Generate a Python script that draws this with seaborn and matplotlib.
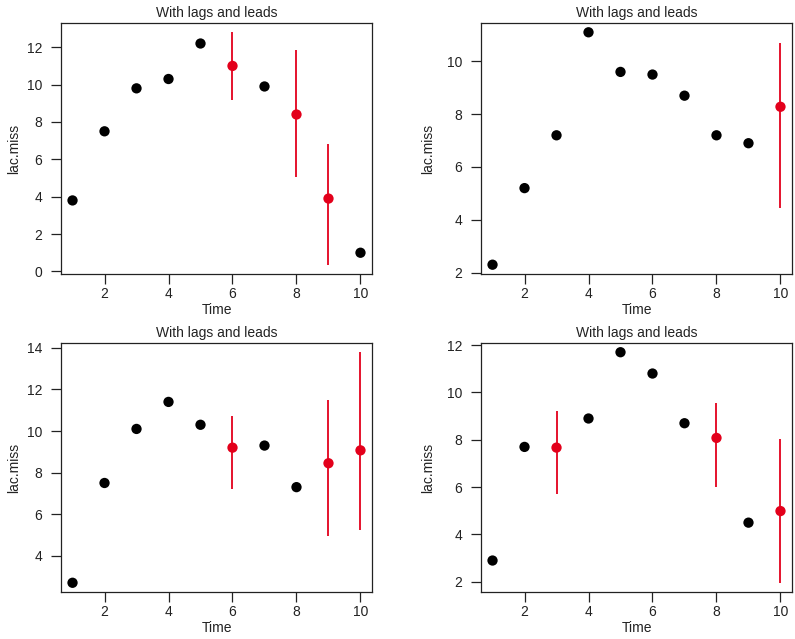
import numpy as np
import pandas as pd
import matplotlib
matplotlib.use("Agg")
import matplotlib.pyplot as plt
import seaborn as sns
from matplotlib.ticker import MultipleLocator

# time points shared by all four panels
time = [1, 2, 3, 4, 5, 6, 7, 8, 9, 10]

# lac.miss values per panel (imputed values at the missing time points)
panel1_y = [3.8, 7.5, 9.8, 10.3, 12.2, 11.0, 9.9, 8.4, 3.9, 1.0]
panel2_y = [2.3, 5.2, 7.2, 11.1, 9.6, 9.5, 8.7, 7.2, 6.9, 8.28]
panel3_y = [2.7, 7.5, 10.1, 11.4, 10.3, 9.2, 9.3, 7.3, 8.45, 9.07]
panel4_y = [2.9, 7.7, 7.67, 8.9, 11.7, 10.8, 8.7, 8.08, 4.5, 4.99]

# imputed time points and their interval bounds
panel1_miss = [6, 8, 9]
panel1_lo = [9.2, 5.08, 0.36]
panel1_hi = [12.8, 11.85, 6.83]

panel2_miss = [10]
panel2_lo = [4.44]
panel2_hi = [10.68]

panel3_miss = [6, 9, 10]
panel3_lo = [7.23, 4.94, 5.22]
panel3_hi = [10.72, 11.49, 13.79]

panel4_miss = [3, 8, 10]
panel4_lo = [5.72, 6.0, 1.96]
panel4_hi = [9.2, 9.57, 8.05]

title = "With lags and leads"

sns.set_style("white")
plt.rcParams["font.family"] = ["Liberation Sans", "DejaVu Sans"]
plt.rcParams["font.size"] = 10

RED = "#E3001B"

panels = [
    (panel1_y, panel1_miss, panel1_lo, panel1_hi),
    (panel2_y, panel2_miss, panel2_lo, panel2_hi),
    (panel3_y, panel3_miss, panel3_lo, panel3_hi),
    (panel4_y, panel4_miss, panel4_lo, panel4_hi),
]

W, H = 795, 639
fig = plt.figure(figsize=(W / 100, H / 100), dpi=100)

# axes boxes in pixels: (left, top, width, height)
boxes = [(61, 23, 311, 251), (481, 23, 311, 251),
         (61, 343, 311, 249), (481, 343, 311, 249)]

for i, (vals, miss, lo, hi) in enumerate(panels):
    l, t, w, h = boxes[i]
    ax = fig.add_axes([l / W, 1 - (t + h) / H, w / W, h / H])

    df = pd.DataFrame({"Time": time, "lac.miss": vals})
    df["kind"] = np.where(df["Time"].isin(miss), "imputed", "observed")

    ax.vlines(miss, lo, hi, color=RED, lw=1.3, zorder=2)
    sns.scatterplot(data=df, x="Time", y="lac.miss", hue="kind",
                    palette={"observed": "black", "imputed": RED},
                    s=55, linewidth=0, legend=False, ax=ax, zorder=3)

    # R-style 4% padding around the data range
    ymin = min(min(vals), min(lo))
    ymax = max(max(vals), max(hi))
    yr = ymax - ymin
    ax.set_ylim(ymin - 0.04 * yr, ymax + 0.04 * yr)
    xr = max(time) - min(time)
    ax.set_xlim(min(time) - 0.04 * xr, max(time) + 0.04 * xr)

    ax.xaxis.set_major_locator(MultipleLocator(2))
    ax.yaxis.set_major_locator(MultipleLocator(2))
    ax.tick_params(direction="out", length=7.5, width=0.9, color="#222222",
                   labelsize=10, labelcolor="#222222",
                   bottom=True, left=True, top=False, right=False)
    ax.tick_params(axis="x", pad=2)
    ax.tick_params(axis="y", pad=6)
    for sp in ax.spines.values():
        sp.set_visible(True)
        sp.set_linewidth(0.9)
        sp.set_color("#222222")

    ax.set_title(title, fontsize=10, pad=4, color="#222222")
    ax.set_xlabel("Time", fontsize=10, color="#222222")
    ax.set_ylabel("lac.miss", fontsize=10, color="#222222")
    ax.xaxis.set_label_coords(0.5, -29 / h)
    off = 40 if l < 400 else 46
    ax.yaxis.set_label_coords(-off / w, 0.5)

fig.savefig("out.png", dpi=100)
